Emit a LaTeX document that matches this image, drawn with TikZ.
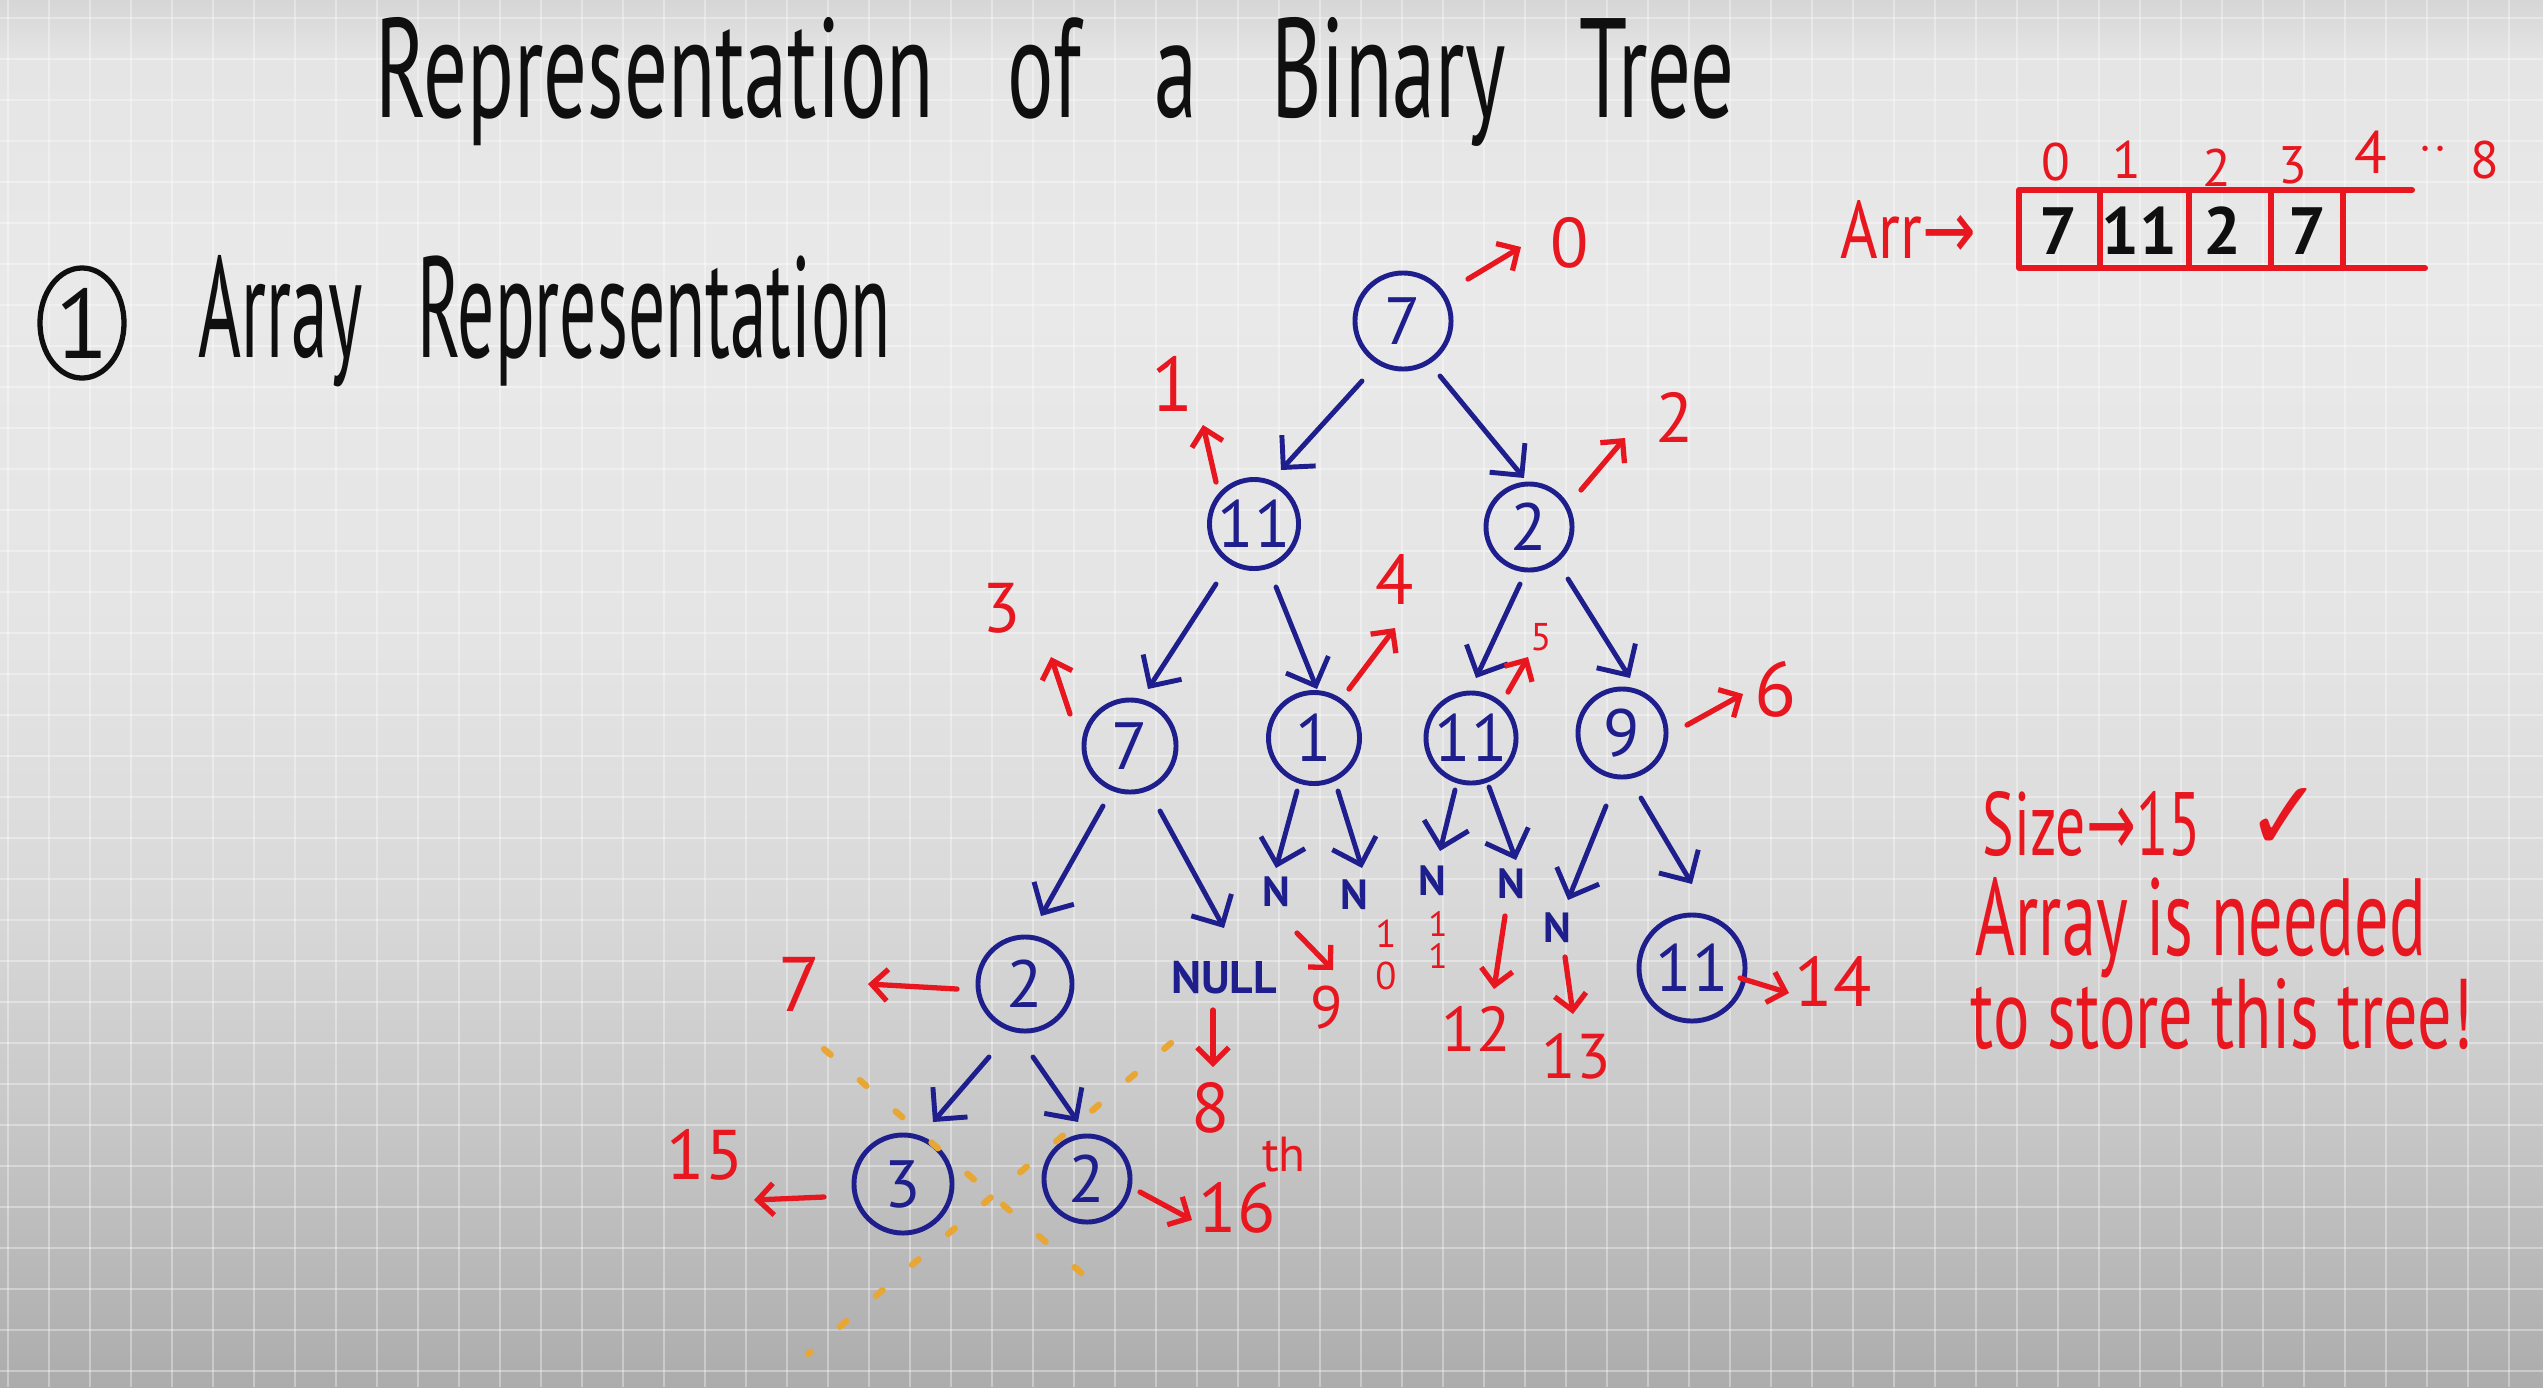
\documentclass[tikz,border=0pt]{standalone}
\usepackage{fontspec}
\usepackage{graphicx}
\setmainfont{PT Sans}
\newfontfamily\symfont{DejaVu Sans}
\usetikzlibrary{arrows.meta,shapes.geometric}

\definecolor{tblue}{RGB}{30,30,140}
\definecolor{tred}{RGB}{232,22,30}
\definecolor{tink}{RGB}{15,15,15}
\definecolor{torange}{RGB}{232,166,52}
\definecolor{bgA}{RGB}{172,172,172}
\definecolor{bgB}{RGB}{186,186,186}
\definecolor{bgC}{RGB}{201,201,201}
\definecolor{bgD}{RGB}{217,217,217}
\definecolor{bgE}{RGB}{228,228,228}
\definecolor{bgF}{RGB}{233,233,233}
\definecolor{bgG}{RGB}{229,229,229}
\definecolor{bgH}{RGB}{214,214,214}
\pgfdeclareverticalshading{boardbg}{100bp}{color(0bp)=(bgA); color(25bp)=(bgA); color(29.9bp)=(bgB); color(35.3bp)=(bgC); color(42.6bp)=(bgD); color(51.6bp)=(bgE); color(64.2bp)=(bgF); color(72.8bp)=(bgG); color(75bp)=(bgH); color(100bp)=(bgH)}

\begin{document}
\begin{tikzpicture}[x=0.01cm, y=-0.01cm,
  tnode/.style={circle, draw=tblue, line width=1.4pt, inner sep=0pt, minimum size=#1, text=tblue, font=\fontsize{19}{19}\selectfont},
  ntxt/.style={text=tblue, inner sep=1pt, font=\bfseries\fontsize{12}{12}\selectfont},
  nulltxt/.style={text=tblue, inner sep=1pt, font=\bfseries\fontsize{13}{13}\selectfont},
  blueedge/.style={draw=tblue, line width=1.4pt, line cap=round, -{Straight Barb[length=6.5pt,width=13pt]}},
  idxarrow/.style={draw=tred, line width=1.5pt, line cap=round, -{Straight Barb[length=4.5pt,width=9pt]}},
  idxlbl/.style={text=tred, inner sep=0pt, font=\fontsize{20}{20}\selectfont},
  arridx/.style={text=tred, inner sep=0pt, font=\fontsize{15}{15}\selectfont},
  cellval/.style={text=tink, inner sep=0pt, font=\bfseries\fontsize{19}{19}\selectfont},
  arrline/.style={draw=tred, line width=1.7pt, line cap=round, line join=round},
  dotline/.style={draw=torange, line width=1.8pt, line cap=round, dash pattern=on 2.5pt off 11pt},
  gridline/.style={draw=white, opacity=0.35, line width=0.6pt},
  handtext/.style={anchor=base west, inner sep=0pt}]

\useasboundingbox (0,0) rectangle (2543,1387);
\fill[shading=boardbg] (0,0) rectangle (2543,1387);
\foreach \gx in {8,49,...,2543} \draw[gridline] (\gx,0) -- (\gx,1387);
\foreach \gy in {18,59,...,1387} \draw[gridline] (0,\gy) -- (2543,\gy);

% headings
\node[handtext, text=tink] (title) at (375,117) {\resizebox{13.58cm}{1.0cm}{\spaceskip=0.85em Representation of a Binary Tree}};
\node[ellipse, draw=tink, line width=1.5pt, minimum width=0.84cm, minimum height=1.1cm, inner sep=0pt, text=tink, font=\fontsize{28}{28}\selectfont] (one) at (82,323) {1};
\node[handtext, text=tink] (sub) at (198,357) {\resizebox{6.92cm}{1.02cm}{\spaceskip=0.75em Array Representation}};

% array
\node[handtext, text=tred] (arr) at (1840,258) {\resizebox{1.35cm}{0.58cm}{Arr{\symfont →}}};
\draw[arrline] (2412,190) -- (2019,190) -- (2019,268) -- (2425,268);
\draw[arrline] (2100,190) -- (2100,268);
\draw[arrline] (2189,190) -- (2189,268);
\draw[arrline] (2271,190) -- (2271,268);
\draw[arrline] (2343,190) -- (2343,268);
\node[cellval] (v0) at (2058,231) {7};
\node[cellval] (v1) at (2139,231) {11};
\node[cellval] (v2) at (2222,231) {2};
\node[cellval] (v3) at (2307,231) {7};
\node[arridx] (i0) at (2056,162) {0};
\node[arridx] (i1) at (2127,160) {1};
\node[arridx] (i2) at (2217,168) {2};
\node[arridx] (i3) at (2293,165) {3};
\node[arridx, font=\fontsize{17}{17}\selectfont] (i4) at (2371,152) {4};
\node[arridx] (idots) at (2433,150) {$\cdot\cdot$};
\node[arridx] (i8) at (2485,160) {8};

% tree nodes
\node[tnode=0.96cm] (root) at (1403,321) {7};
\node[tnode=0.89cm] (n1) at (1254,524) {11};
\node[tnode=0.86cm] (n2) at (1529,527) {2};
\node[tnode=0.92cm] (n3) at (1130,746) {7};
\node[tnode=0.91cm] (n4) at (1314,738) {1};
\node[tnode=0.90cm] (n5) at (1471,738) {11};
\node[tnode=0.88cm] (n6) at (1622,733) {9};
\node[tnode=0.94cm] (n7) at (1025,984) {2};
\node[nulltxt] (null) at (1224,978) {NULL};
\node[ntxt] (N9) at (1276,892) {N};
\node[ntxt] (N10) at (1354,895) {N};
\node[ntxt] (N11) at (1432,881) {N};
\node[ntxt] (N12) at (1511,884) {N};
\node[ntxt] (N13) at (1557,928) {N};
\node[tnode=1.06cm] (n14) at (1692,968) {11};
\node[tnode=0.98cm] (n15) at (903,1184) {3};
\node[tnode=0.86cm] (n16) at (1087,1179) {2};

% tree connectors
\draw[blueedge] ([shift={(-41,60)}]root.center) -- ([shift={(27,-54)}]n1.center);
\draw[blueedge] ([shift={(37,55)}]root.center) -- ([shift={(-5,-49)}]n2.center);
\draw[blueedge] ([shift={(-38,60)}]n1.center) -- ([shift={(18,-57)}]n3.center);
\draw[blueedge] ([shift={(22,63)}]n1.center) -- ([shift={(3,-49)}]n4.center);
\draw[blueedge] ([shift={(-9,57)}]n2.center) -- ([shift={(5,-60)}]n5.center);
\draw[blueedge] ([shift={(39,52)}]n2.center) -- ([shift={(8,-55)}]n6.center);
\draw[blueedge] ([shift={(-27,60)}]n3.center) -- ([shift={(16,-68)}]n7.center);
\draw[blueedge] ([shift={(30,65)}]n3.center) -- ([shift={(0,-50)}]null.center);
\draw[blueedge] ([shift={(-17,53)}]n4.center) -- ([shift={(0,-24)}]N9.center);
\draw[blueedge] ([shift={(24,53)}]n4.center) -- ([shift={(8,-27)}]N10.center);
\draw[blueedge] ([shift={(-16,52)}]n5.center) -- ([shift={(8,-30)}]N11.center);
\draw[blueedge] ([shift={(18,49)}]n5.center) -- ([shift={(5,-24)}]N12.center);
\draw[blueedge] ([shift={(-16,73)}]n6.center) -- ([shift={(11,-28)}]N13.center);
\draw[blueedge] ([shift={(19,65)}]n6.center) -- ([shift={(0,-84)}]n14.center);
\draw[blueedge] ([shift={(-36,73)}]n7.center) -- ([shift={(30,-62)}]n15.center);
\draw[blueedge] ([shift={(8,73)}]n7.center) -- ([shift={(-9,-57)}]n16.center);

% index arrows and labels
\coordinate (a0) at (1521,247);
\coordinate (a1) at (1203,425);
\coordinate (a2) at (1625,438);
\coordinate (a3) at (1051,657);
\coordinate (a4) at (1395,628);
\coordinate (a5) at (1528,657);
\coordinate (a6) at (1743,694);
\coordinate (a7) at (868,984);
\coordinate (a8) at (1213,1067);
\coordinate (a9) at (1333,970);
\coordinate (a12) at (1494,989);
\coordinate (a13) at (1573,1014);
\coordinate (a14) at (1789,993);
\coordinate (a15) at (754,1200);
\coordinate (a16) at (1192,1220);
\draw[idxarrow] ([shift={(65,-42)}]root.center) -- (a0);
\draw[idxarrow] ([shift={(-38,-42)}]n1.center) -- (a1);
\draw[idxarrow] ([shift={(52,-37)}]n2.center) -- (a2);
\draw[idxarrow] ([shift={(-60,-32)}]n3.center) -- (a3);
\draw[idxarrow] ([shift={(35,-49)}]n4.center) -- (a4);
\draw[idxarrow] ([shift={(37,-46)}]n5.center) -- (a5);
\draw[idxarrow] ([shift={(65,-8)}]n6.center) -- (a6);
\draw[idxarrow] ([shift={(-68,5)}]n7.center) -- (a7);
\draw[idxarrow] ([shift={(-11,32)}]null.center) -- (a8);
\draw[idxarrow] ([shift={(21,41)}]N9.center) -- (a9);
\draw[idxarrow] ([shift={(-6,32)}]N12.center) -- (a12);
\draw[idxarrow] ([shift={(8,29)}]N13.center) -- (a13);
\draw[idxarrow] ([shift={(48,10)}]n14.center) -- (a14);
\draw[idxarrow] ([shift={(-79,13)}]n15.center) -- (a15);
\draw[idxarrow] ([shift={(53,13)}]n16.center) -- (a16);

\node[idxlbl] (l0) at (1570,243) {0};
\node[idxlbl, font=\fontsize{22}{22}\selectfont] (l1) at (1173,384) {1};
\node[idxlbl] (l2) at (1675,417) {2};
\node[idxlbl] (l3) at (1002,608) {3};
\node[idxlbl] (l4) at (1395,579) {4};
\node[idxlbl, font=\fontsize{11}{11}\selectfont] (l5) at (1541,637) {5};
\node[idxlbl, font=\fontsize{22}{22}\selectfont] (l6) at (1776,689) {6};
\node[idxlbl, font=\fontsize{22}{22}\selectfont] (l7) at (800,984) {7};
\node[idxlbl] (l8) at (1211,1108) {8};
\node[idxlbl, font=\fontsize{17}{17}\selectfont] (l9) at (1327,1008) {9};
\node[idxlbl, align=center, font=\fontsize{11}{12}\selectfont] (l10) at (1386,955) {1\\0};
\node[idxlbl, align=center, font=\fontsize{10}{9}\selectfont] (l11) at (1438,940) {1\\1};
\node[idxlbl, font=\fontsize{18}{18}\selectfont] (l12) at (1476,1029) {12};
\node[idxlbl, font=\fontsize{18}{18}\selectfont] (l13) at (1576,1056) {13};
\node[idxlbl] (l14) at (1833,981) {14};
\node[idxlbl] (l15) at (705,1155) {15};
\node[idxlbl] (l16) at (1237,1208) {16};
\node[idxlbl, font=\fontsize{14}{14}\selectfont] (l16th) at (1284,1155) {th};

% dotted continuation lines
\coordinate (d1a) at (824,1049);
\coordinate (d1b) at (1109,1297);
\coordinate (d2a) at (1171,1043);
\coordinate (d2b) at (808,1354);
\draw[dotline] (d1a) -- (d1b);
\draw[dotline] (d2a) -- (d2b);

% note
\node[handtext, text=tred] (size) at (1982,855) {\resizebox{2.18cm}{0.64cm}{Size{\symfont →}15}};
\node[inner sep=0pt, text=tred] (tick) at (2284,819) {\resizebox{0.76cm}{0.62cm}{\symfont ✓}};
\node[handtext, text=tred] (need1) at (1975,955) {\resizebox{4.5cm}{0.78cm}{Array is needed}};
\node[handtext, text=tred] (need2) at (1970,1048) {\resizebox{5.02cm}{0.70cm}{to store this tree!}};
\end{tikzpicture}
\end{document}
